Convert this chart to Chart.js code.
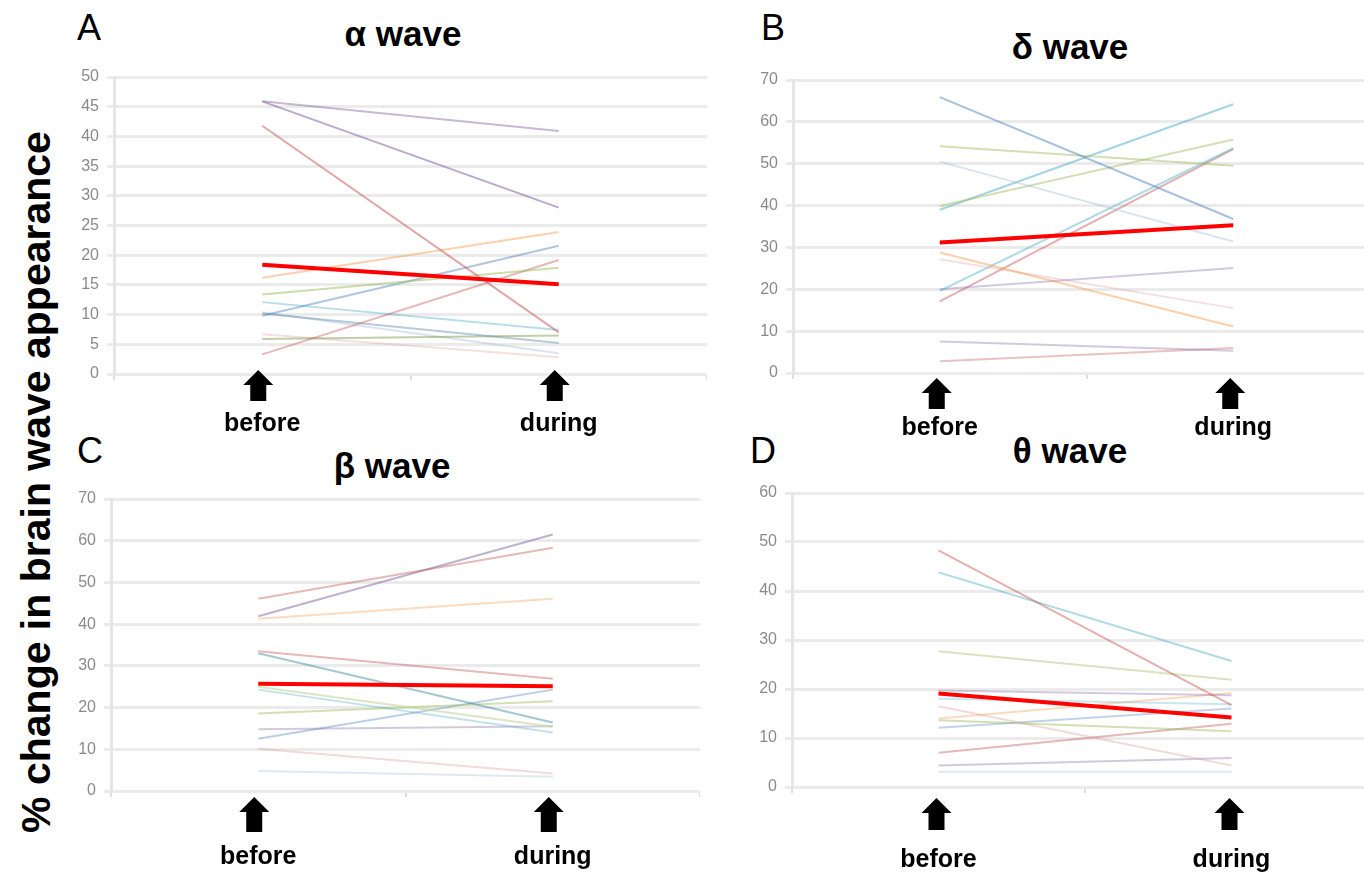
<!DOCTYPE html>
<html>
<head>
<meta charset="utf-8">
<script src="https://cdn.jsdelivr.net/npm/chart.js@4.4.1/dist/chart.umd.min.js"></script>
<style>
  html, body { margin: 0; padding: 0; background: #fff; width: 1364px; height: 875px; overflow: hidden; position: relative; }
  .lbl { position: absolute; font-family: "Liberation Sans", Arial, sans-serif; color: #000; line-height: 1; white-space: nowrap; }
  .letter { font-size: 36px; }
  .title { font-size: 35px; font-weight: bold; transform: translateX(-50%); }
  .ytitle { font-size: 41px; font-weight: bold; transform: translate(-50%, -50%) rotate(-90deg); }
  canvas { position: absolute; }
</style>
</head>
<body>
<div class="lbl letter" style="left:77px;top:10px">A</div>
<div class="lbl letter" style="left:761px;top:10px">B</div>
<div class="lbl letter" style="left:77px;top:433px">C</div>
<div class="lbl letter" style="left:750px;top:433px">D</div>

<div class="lbl title" style="left:403px;top:16px">α wave</div>
<div class="lbl title" style="left:1070px;top:29px">δ wave</div>
<div class="lbl title" style="left:392px;top:448px">β wave</div>
<div class="lbl title" style="left:1070px;top:433px">θ wave</div>

<div class="lbl ytitle" style="left:36px;top:482px">% change in brain wave appearance</div>

<canvas id="alpha"></canvas>
<canvas id="delta"></canvas>
<canvas id="beta"></canvas>
<canvas id="theta"></canvas>

<script>
// x categories
const categories = ['before', 'during'];

// alpha wave, one value per subject
const alphaBefore = [45.9, 45.9, 41.8, 16.2, 13.4, 9.8, 3.3, 12.1, 10.2, 5.9, 6.7, 10.4];
const alphaDuring = [40.9, 28.0, 7.0, 23.9, 17.9, 21.6, 19.2, 7.4, 5.2, 6.5, 2.8, 3.5];
const alphaMean = [18.4, 15.1];

// delta wave
const deltaBefore = [65.9, 54.2, 50.5, 39.9, 39.0, 28.8, 27.2, 19.6, 20.0, 17.1, 7.5, 2.8];
const deltaDuring = [36.8, 49.5, 31.4, 55.8, 64.2, 11.1, 15.5, 53.7, 25.1, 53.5, 5.3, 6.0];
const deltaMean = [31.2, 35.3];

// beta wave
const betaBefore = [46.1, 41.9, 41.3, 33.5, 33.0, 24.3, 25.0, 18.6, 14.8, 12.5, 10.1, 4.8];
const betaDuring = [58.3, 61.5, 46.1, 26.9, 16.4, 14.0, 15.4, 21.5, 15.5, 24.3, 4.2, 3.4];
const betaMean = [25.7, 25.1];

// theta wave
const thetaBefore = [48.3, 43.8, 27.7, 19.7, 18.0, 16.5, 14.0, 13.6, 12.1, 7.0, 4.4, 3.1];
const thetaDuring = [16.7, 25.7, 21.9, 18.7, 16.9, 4.4, 19.2, 11.4, 16.0, 12.9, 5.9, 3.1];
const thetaMean = [19.1, 14.2];

// y axis ranges
const yMax = { alpha: 50, delta: 70, beta: 70, theta: 60 };
const yStep = { alpha: 5, delta: 10, beta: 10, theta: 10 };

// subject line colours (pale office palette)
const alphaColors = [
  'rgba(128,100,162,0.45)', 'rgba(128,100,162,0.55)', 'rgba(192,80,77,0.5)', 'rgba(247,150,70,0.45)',
  'rgba(155,187,89,0.5)', 'rgba(79,129,189,0.45)', 'rgba(192,80,77,0.4)', 'rgba(75,172,198,0.4)',
  'rgba(96,140,170,0.45)', 'rgba(119,147,60,0.45)', 'rgba(217,150,148,0.3)', 'rgba(149,179,215,0.35)'
];
const deltaColors = [
  'rgba(79,129,189,0.5)', 'rgba(155,187,89,0.45)', 'rgba(149,179,215,0.35)', 'rgba(155,187,89,0.45)',
  'rgba(75,172,198,0.5)', 'rgba(247,150,70,0.45)', 'rgba(217,150,148,0.3)', 'rgba(75,172,198,0.45)',
  'rgba(128,100,162,0.35)', 'rgba(192,80,77,0.45)', 'rgba(128,100,162,0.35)', 'rgba(192,80,77,0.35)'
];
const betaColors = [
  'rgba(192,80,77,0.4)', 'rgba(128,100,162,0.5)', 'rgba(247,150,70,0.35)', 'rgba(192,80,77,0.4)',
  'rgba(49,133,155,0.45)', 'rgba(75,172,198,0.35)', 'rgba(195,214,155,0.6)', 'rgba(155,187,89,0.45)',
  'rgba(128,100,162,0.35)', 'rgba(79,129,189,0.4)', 'rgba(217,150,148,0.35)', 'rgba(149,179,215,0.3)'
];
const thetaColors = [
  'rgba(192,80,77,0.45)', 'rgba(75,172,198,0.45)', 'rgba(155,187,89,0.4)', 'rgba(128,100,162,0.35)',
  'rgba(75,172,198,0.3)', 'rgba(217,150,148,0.35)', 'rgba(247,150,70,0.35)', 'rgba(155,187,89,0.45)',
  'rgba(79,129,189,0.35)', 'rgba(192,80,77,0.4)', 'rgba(128,100,162,0.35)', 'rgba(149,179,215,0.3)'
];

const AXIS_W = 60;
const X_H = 100;
const PAD_TOP = 20;

// black up arrows under the category ticks
const arrowPlugin = {
  id: 'arrows',
  afterDraw(chart, args, opts) {
    const { ctx, chartArea } = chart;
    const xs = chart.scales.x;
    ctx.save();
    ctx.fillStyle = '#000';
    xs.ticks.forEach((t, i) => {
      const cx = xs.getPixelForTick(i) + opts.dx;
      const top = chartArea.bottom + opts.top;
      const h = opts.height;
      ctx.beginPath();
      ctx.moveTo(cx, top);
      ctx.lineTo(cx + 15, top + 15);
      ctx.lineTo(cx + 8, top + 15);
      ctx.lineTo(cx + 8, top + h);
      ctx.lineTo(cx - 8, top + h);
      ctx.lineTo(cx - 8, top + 15);
      ctx.lineTo(cx - 15, top + 15);
      ctx.closePath();
      ctx.fill();
    });
    ctx.restore();
  }
};

function makePanel(id, before, during, mean, colors, max, step, box) {
  const canvas = document.getElementById(id);
  const left = box.left - AXIS_W;
  const top = box.top - PAD_TOP;
  canvas.style.left = left + 'px';
  canvas.style.top = top + 'px';
  canvas.width = Math.round(box.right - left);
  canvas.height = Math.round(box.bottom - top + X_H);

  const datasets = [{
    data: mean,
    borderColor: '#ff0000',
    borderWidth: 4,
    pointRadius: 0
  }];
  before.forEach((b, i) => {
    datasets.push({
      data: [b, during[i]],
      borderColor: colors[i],
      borderWidth: 2,
      pointRadius: 0
    });
  });

  new Chart(canvas, {
    type: 'line',
    data: { labels: categories, datasets },
    plugins: [arrowPlugin],
    options: {
      responsive: false,
      devicePixelRatio: 1,
      animation: false,
      layout: { padding: { top: PAD_TOP, left: 0, right: 0, bottom: 0 } },
      plugins: {
        legend: { display: false },
        tooltip: { enabled: false },
        arrows: { dx: box.arrowDx, top: box.arrowTop, height: box.arrowH }
      },
      scales: {
        x: {
          offset: true,
          grid: { offset: true, drawOnChartArea: false, drawTicks: true, tickLength: 6, color: '#dedede', lineWidth: 2 },
          border: { display: false },
          ticks: {
            padding: box.labelPad,
            maxRotation: 0,
            color: '#000',
            font: { family: 'Liberation Sans', size: 25, weight: 'bold' }
          },
          afterFit(scale) { scale.height = X_H; }
        },
        y: {
          min: 0,
          max: max,
          ticks: {
            stepSize: step,
            padding: 8,
            color: '#8a8a8a',
            font: { family: 'Liberation Sans', size: 16 }
          },
          grid: { color: '#ebebeb', lineWidth: 3, drawTicks: true, tickLength: 7 },
          border: { display: true, color: '#e6e6e6', width: 3 },
          afterFit(scale) { scale.width = AXIS_W; }
        }
      }
    }
  });
}

makePanel('alpha', alphaBefore, alphaDuring, alphaMean, alphaColors, yMax.alpha, yStep.alpha,
  { left: 114, right: 707, top: 76.7, bottom: 373.3, labelPad: 29, arrowDx: -4, arrowTop: -4, arrowH: 31 });
makePanel('delta', deltaBefore, deltaDuring, deltaMean, deltaColors, yMax.delta, yStep.delta,
  { left: 793, right: 1380, top: 80, bottom: 373.3, labelPad: 34, arrowDx: -3, arrowTop: 5, arrowH: 31 });
makePanel('beta', betaBefore, betaDuring, betaMean, betaColors, yMax.beta, yStep.beta,
  { left: 111, right: 700, top: 499.3, bottom: 791.7, labelPad: 45, arrowDx: -4, arrowTop: 6, arrowH: 35 });
makePanel('theta', thetaBefore, thetaDuring, thetaMean, thetaColors, yMax.theta, yStep.theta,
  { left: 792, right: 1378, top: 492.7, bottom: 786.7, labelPad: 52, arrowDx: -2, arrowTop: 11, arrowH: 32 });
</script>
</body>
</html>
